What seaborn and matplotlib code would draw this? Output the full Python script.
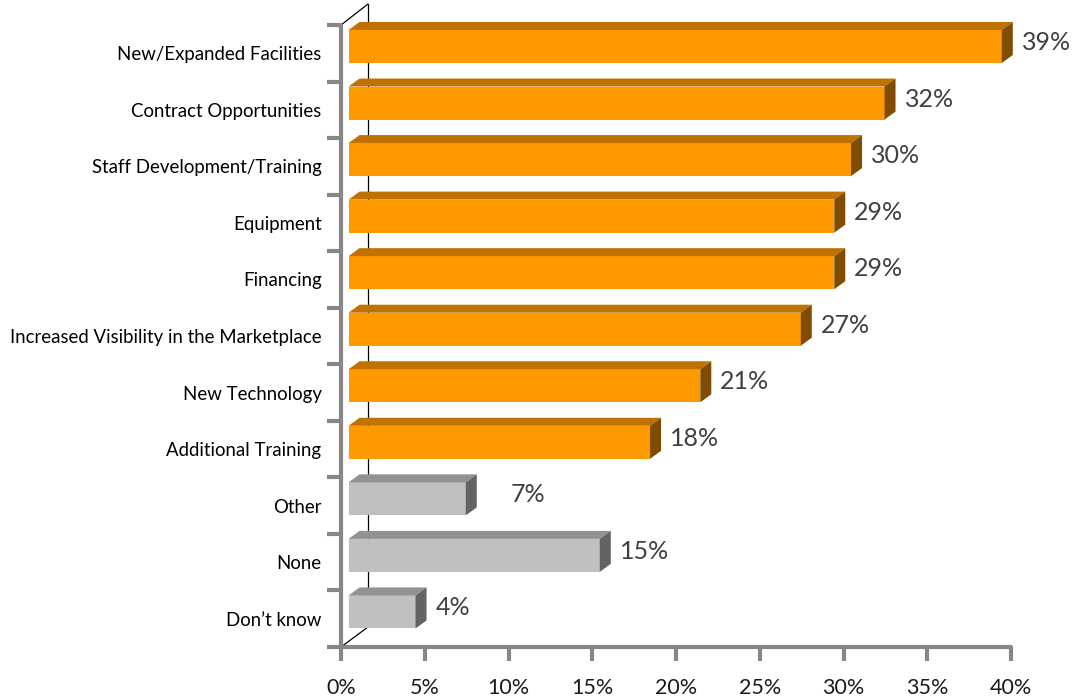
import matplotlib
matplotlib.use("Agg")
import matplotlib.pyplot as plt
from matplotlib.patches import Polygon
from matplotlib.lines import Line2D
import numpy as np
import pandas as pd
import seaborn as sns

# Survey responses: share of respondents naming each need
categories = [
    "New/Expanded Facilities",
    "Contract Opportunities",
    "Staff Development/Training",
    "Equipment",
    "Financing",
    "Increased Visibility in the Marketplace",
    "New Technology",
    "Additional Training",
    "Other",
    "None",
    "Don\u2019t know",
]
values = [39, 32, 30, 29, 29, 27, 21, 18, 7, 15, 4]
groups = ["need"] * 8 + ["other"] * 3
x_ticks = [0, 5, 10, 15, 20, 25, 30, 35, 40]

df = pd.DataFrame({"category": categories, "value": values, "group": groups})

sns.set_theme(style="white")
plt.rcParams["font.family"] = ["Lato", "DejaVu Sans"]

# face colours: front, top, side
ORANGE = ("#FF9900", "#C07200", "#7F4C00")
GREY = ("#C0C0C0", "#929292", "#636363")
palette = {"need": ORANGE[0], "other": GREY[0]}
shades = {ORANGE[0].lower(): ORANGE, GREY[0].lower(): GREY}

AXIS_GREY = "#878787"

W, H = 1073, 698
fig = plt.figure(figsize=(W / 100, H / 100), dpi=100)
ax = fig.add_axes([341 / W, 1 - 647 / H, (1011 - 341) / W, (647 - 25) / H])

sns.barplot(data=df, x="value", y="category", hue="group", palette=palette,
            dodge=False, width=0.584, saturation=1, legend=False, ax=ax,
            zorder=3)

ax.set_xlim(0, 40)
ax.set_ylim(len(categories) - 0.5, -0.5)

# pixel -> data conversion for the pseudo-3D extrusion
px_x = (1011 - 341) / 40.0
px_y = (647 - 25) / len(categories)
depth_x = 11 / px_x
depth_y = 8 / px_y
front_offset = 0.45
lift = 0.12

for p in ax.patches:
    w = p.get_width()
    if w <= 0:
        continue
    p.set_x(front_offset)
    p.set_y(p.get_y() - lift)
    p.set_edgecolor("none")
    front = matplotlib.colors.to_hex(p.get_facecolor()).lower()
    _, top_c, side_c = shades.get(front, (front, front, front))
    x0 = front_offset
    x1 = front_offset + w
    yt = p.get_y()
    yb = yt + p.get_height()
    top = Polygon([(x0, yt), (x1, yt), (x1 + depth_x, yt - depth_y),
                   (x0 + depth_x, yt - depth_y)], closed=True,
                  facecolor=top_c, edgecolor="none", zorder=3, clip_on=False)
    side = Polygon([(x1, yt), (x1 + depth_x, yt - depth_y),
                    (x1 + depth_x, yb - depth_y), (x1, yb)], closed=True,
                   facecolor=side_c, edgecolor="none", zorder=3, clip_on=False)
    ax.add_patch(top)
    ax.add_patch(side)

# back wall outline
wall_x = 27 / px_x
ax.add_line(Line2D([wall_x, wall_x], [-0.5 - 21 / px_y, 10.5 - 20 / px_y],
                   color="black", lw=0.9, zorder=1, clip_on=False))
ax.add_line(Line2D([0, wall_x], [-0.5, -0.5 - 21 / px_y],
                   color="black", lw=0.9, zorder=1, clip_on=False))
ax.add_line(Line2D([0, wall_x], [10.5, 10.5 - 20 / px_y],
                   color="black", lw=0.9, zorder=1, clip_on=False))

# value labels
label_nudge = {"Other": 1.5}
for i, (cat, v) in enumerate(zip(categories, values)):
    x = front_offset + v + depth_x + 9 / px_x + label_nudge.get(cat, 0)
    ax.text(x, i - lift - 0.07, f"{v}%", ha="left", va="center",
            fontsize=18, color="#404040", zorder=4, clip_on=False)

# axes styling
for s in ("top", "right"):
    ax.spines[s].set_visible(False)
for s in ("left", "bottom"):
    ax.spines[s].set_color(AXIS_GREY)
    ax.spines[s].set_linewidth(3)
    ax.spines[s].set_capstyle("round")

ax.set_xticks(x_ticks)
ax.set_xticklabels([f"{t}%" for t in x_ticks])
ax.tick_params(axis="x", direction="out", length=10, width=3,
               color=AXIS_GREY, labelsize=15.5, labelcolor="#1a1a1a", pad=12,
               bottom=True)

ax.set_yticks(np.arange(len(categories)))
ax.set_yticklabels(categories)
ax.set_yticks(np.arange(len(categories) + 1) - 0.5, minor=True)
ax.tick_params(axis="y", which="major", length=0, pad=14, labelsize=13.4,
               labelcolor="black")
ax.tick_params(axis="y", which="minor", direction="out", length=10, width=3,
               color=AXIS_GREY, left=True)

ax.set_xlabel("")
ax.set_ylabel("")
ax.grid(False)
ax.set_facecolor("white")
fig.patch.set_facecolor("white")

fig.savefig("out.png", dpi=100, facecolor="white")
